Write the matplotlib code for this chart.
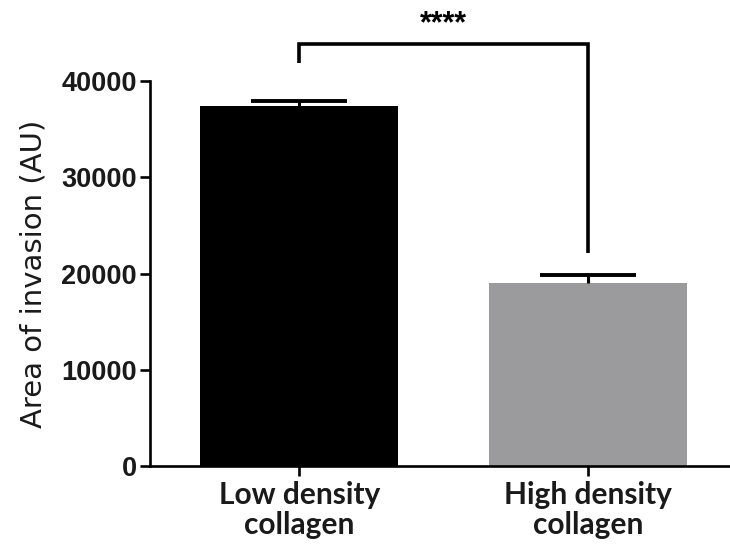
import matplotlib
matplotlib.use("Agg")
import matplotlib.pyplot as plt

categories = ["Low density\ncollagen", "High density\ncollagen"]
means = [37400, 19000]
sems = [470, 840]
colors = ["#000000", "#9b9b9d"]
sig_label = "****"
bracket_y = 43800
bracket_left_bottom = 41900
bracket_right_bottom = 22100
yticks = [0, 10000, 20000, 30000, 40000]

fig = plt.figure(figsize=(7.3, 5.48), dpi=100)
ax = fig.add_axes([0.2055, 0.1496, 0.7945, 0.7026])

x = [0, 1]
bar_w = 0.685
ax.bar(x, means, width=bar_w, color=colors, zorder=2)
tops = [m + s for m, s in zip(means, sems)]
ax.vlines(x, means, tops, color="black", lw=2.2, zorder=3)
cap_half = bar_w * 0.243
ax.hlines(tops, [xi - cap_half for xi in x], [xi + cap_half for xi in x],
          color="black", lw=2.8, zorder=3)

ax.set_xlim(-0.516, 1.49)
ax.set_ylim(0, 40000)
ax.set_yticks(yticks)
ax.set_yticklabels([str(t) for t in yticks], fontsize=19.5, fontweight="bold",
                   family="Liberation Sans", color="#1a1a1a")
ax.set_xticks(x)
ax.set_xticklabels(categories, fontsize=21.5, fontweight="bold",
                   family="Lato", color="#1a1a1a", linespacing=1.1)
ax.set_ylabel("Area of invasion (AU)", fontsize=21, family="DejaVu Sans",
              color="#1a1a1a", labelpad=10)

for s in ["top", "right"]:
    ax.spines[s].set_visible(False)
for s in ["left", "bottom"]:
    ax.spines[s].set_linewidth(1.9)
ax.tick_params(axis="y", width=1.9, length=7.5, direction="out", pad=2)
ax.tick_params(axis="x", width=1.9, length=7.5, direction="out", pad=3)

ax.plot([x[0], x[0], x[1], x[1]],
        [bracket_left_bottom, bracket_y, bracket_y, bracket_right_bottom],
        color="black", lw=2.6, clip_on=False, solid_capstyle="butt",
        solid_joinstyle="miter", zorder=4)
ax.text((x[0] + x[1]) / 2, bracket_y + 500, sig_label, ha="center", va="bottom",
        fontsize=22, fontweight="bold", family="Liberation Sans")

fig.savefig("out.png", dpi=100)
